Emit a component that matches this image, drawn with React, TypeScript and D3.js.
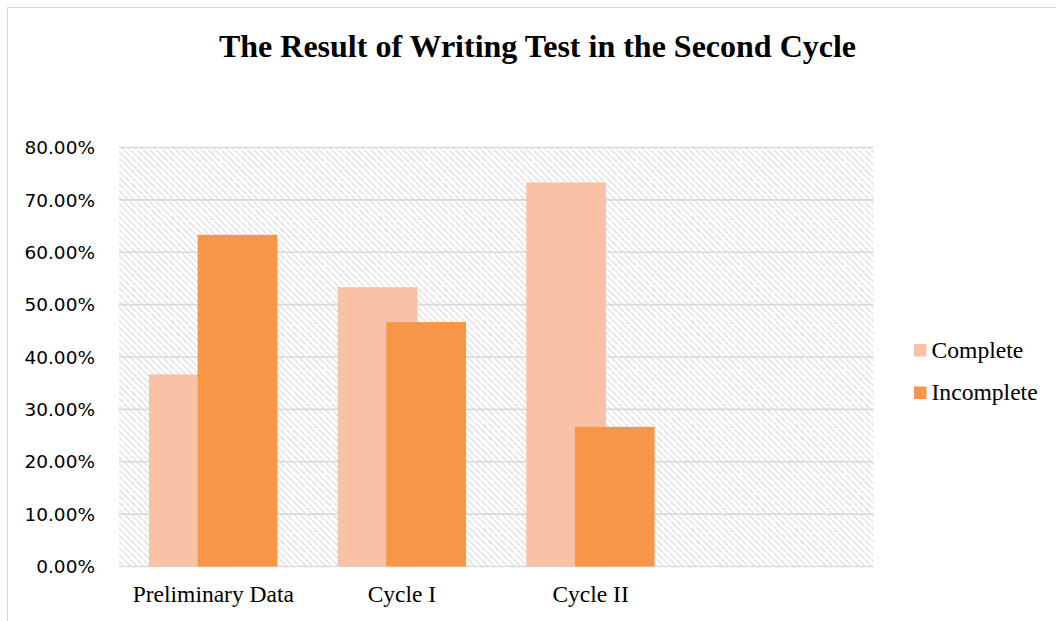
import React from "react";
import * as d3 from "d3";

const categories = ["Preliminary Data", "Cycle I", "Cycle II", ""];
const completeValues = [36.67, 53.33, 73.33, null];
const incompleteValues = [63.33, 46.67, 26.67, null];
const yTicks = [0, 10, 20, 30, 40, 50, 60, 70, 80];
const seriesNames = ["Complete", "Incomplete"];
const seriesColors = ["#F9C2A7", "#F79646"];
const title = "The Result of Writing Test in the Second Cycle";

const W = 1056;
const H = 621;
const plot = { left: 119, right: 873.5, top: 147.5, bottom: 566.5 };

export default function App() {
  const x = d3.scaleBand<string>().domain(categories.map((c, i) => String(i))).range([plot.left, plot.right]).padding(0);
  const y = d3.scaleLinear().domain([0, 80]).range([plot.bottom, plot.top]);
  const bw = x.bandwidth();
  const barW = bw * 0.4225;
  const off0 = bw * 0.159;
  const off1 = bw * 0.417;
  const series = [completeValues, incompleteValues];
  const offs = [off0, off1];

  return (
    <svg width={W} height={H} style={{ position: "absolute", left: 0, top: 0 }}>
      <defs>
        <pattern id="hatch" patternUnits="userSpaceOnUse" width={6.5} height={6.5}>
          <rect width={6.5} height={6.5} fill="#ffffff" />
          <path d="M-1.625,1.625 l3.25,-3.25 M0,0 L6.5,6.5 M4.875,8.125 l3.25,-3.25" stroke="#e2e2e2" strokeWidth={1.5} />
        </pattern>
      </defs>
      <rect x={0} y={0} width={W} height={H} fill="#fff" />
      <rect x={7.5} y={7.5} width={W + 20} height={H + 20} fill="none" stroke="#d9d9d9" strokeWidth={1} />
      <text x={537.5} y={57} textAnchor="middle" fontFamily="'Liberation Serif', 'Times New Roman', serif" fontWeight="bold" fontSize={32} fill="#000">
        {title}
      </text>
      <rect x={plot.left} y={plot.top} width={plot.right - plot.left} height={plot.bottom - plot.top} fill="url(#hatch)" />
      {yTicks.map((t) => (
        <g key={t}>
          <line x1={plot.left} x2={plot.right} y1={y(t)} y2={y(t)} stroke="#d9d9d9" strokeWidth={1.6} />
          <text x={95} y={y(t) + 6.7} textAnchor="end" fontFamily="'DejaVu Sans', sans-serif" fontSize={18.5} fill="#000">
            {t.toFixed(2) + "%"}
          </text>
        </g>
      ))}
      {series.map((vals, si) =>
        vals.map((v, i) =>
          v == null ? null : (
            <rect
              key={si + "-" + i}
              x={(x(String(i)) as number) + offs[si]}
              y={y(v)}
              width={barW}
              height={y(0) - y(v)}
              fill={seriesColors[si]}
            />
          )
        )
      )}
      {categories.map((c, i) => (
        <text key={i} x={(x(String(i)) as number) + bw / 2} y={602} textAnchor="middle" fontFamily="'Liberation Serif', 'Times New Roman', serif" fontSize={23.5} fill="#000">
          {c}
        </text>
      ))}
      {seriesNames.map((n, i) => (
        <g key={n}>
          <rect x={914} y={344 + i * 42.5} width={12.5} height={12.5} fill={seriesColors[i]} />
          <text x={931.5} y={358 + i * 42} fontFamily="'Liberation Serif', 'Times New Roman', serif" fontSize={23.6} fill="#000">
            {n}
          </text>
        </g>
      ))}
    </svg>
  );
}
